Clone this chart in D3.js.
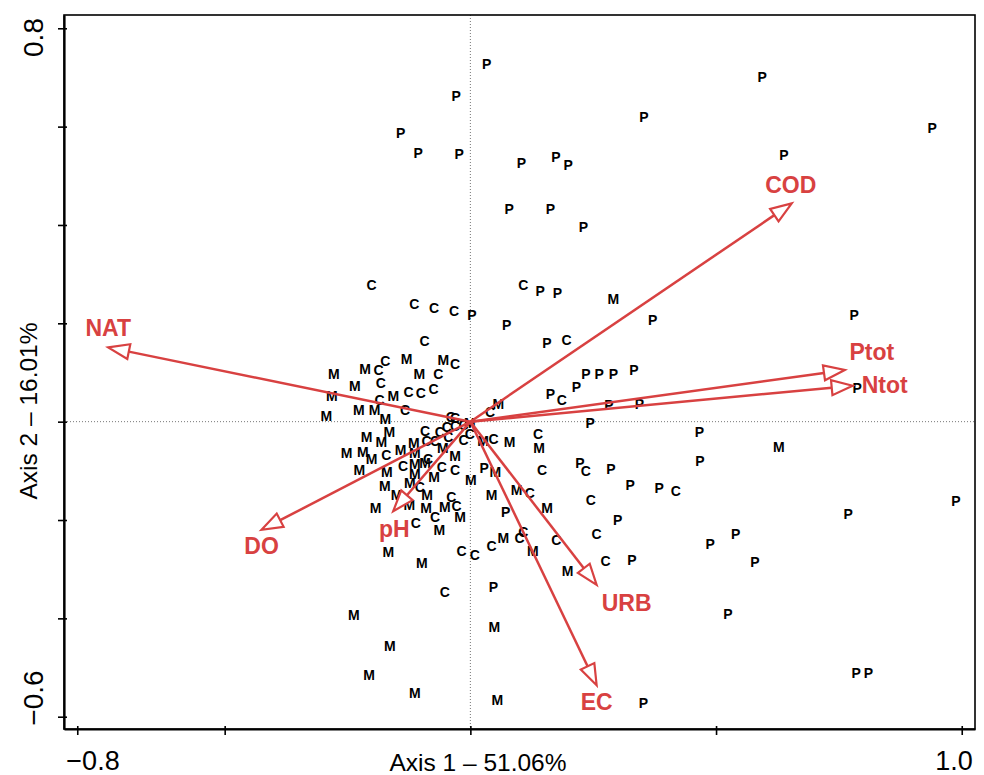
<!DOCTYPE html>
<html>
<head>
<meta charset="utf-8">
<script src="https://cdn.jsdelivr.net/npm/d3@7"></script>
<style>
  body { margin: 0; background: #fff; }
  svg { display: block; }
</style>
</head>
<body>
<div id="chart"></div>
<script>
// site scores (axis 1, axis 2), grouped by site class
const sitesP = [
  [0.033, 0.728], [-0.029, 0.662], [-0.142, 0.588], [-0.106, 0.547], [-0.023, 0.545],
  [0.104, 0.527], [0.174, 0.538], [0.199, 0.522], [0.079, 0.432], [0.163, 0.432],
  [0.230, 0.395], [0.353, 0.619], [0.594, 0.700], [0.638, 0.542], [0.940, 0.597],
  [0.003, 0.217], [0.074, 0.197], [0.142, 0.266], [0.177, 0.261], [0.371, 0.207],
  [0.156, 0.161], [0.781, 0.218], [0.787, 0.069], [0.163, 0.056], [0.216, 0.070],
  [0.235, 0.096], [0.262, 0.096], [0.291, 0.096], [0.333, 0.105], [0.282, 0.033],
  [0.344, 0.035], [0.244, -0.002], [0.466, -0.020], [0.467, -0.079], [0.223, -0.083],
  [0.286, -0.097], [0.325, -0.128], [0.384, -0.135], [0.300, -0.200], [0.329, -0.282],
  [0.488, -0.249], [0.540, -0.228], [0.579, -0.286], [0.524, -0.391], [0.785, -0.511],
  [0.810, -0.511], [0.988, -0.162], [0.769, -0.188], [0.352, -0.573], [0.047, -0.336],
  [0.028, -0.094], [0.072, -0.184]
];
const sitesC = [
  [-0.201, 0.278], [-0.114, 0.240], [-0.074, 0.231], [-0.033, 0.226], [0.108, 0.279],
  [-0.093, 0.164], [0.196, 0.166], [0.186, 0.044], [-0.173, 0.123], [-0.031, 0.117],
  [-0.187, 0.106], [-0.065, 0.096], [-0.182, 0.079], [-0.126, 0.061], [-0.101, 0.059],
  [-0.075, 0.066], [-0.185, 0.044], [-0.133, 0.024], [-0.040, 0.010], [-0.031, 0.008],
  [-0.048, -0.010], [-0.031, -0.009], [-0.014, -0.006], [-0.001, -0.024], [0.040, 0.019],
  [-0.092, -0.019], [-0.062, -0.021], [-0.089, -0.039], [-0.072, -0.039], [-0.045, -0.031],
  [-0.014, -0.037], [0.047, -0.035], [0.138, -0.026], [-0.171, -0.068], [-0.086, -0.076],
  [-0.137, -0.091], [-0.058, -0.092], [-0.031, -0.099], [0.146, -0.099], [0.235, -0.101],
  [-0.103, -0.133], [-0.039, -0.153], [0.121, -0.145], [0.418, -0.141], [0.245, -0.159],
  [-0.028, -0.171], [-0.072, -0.193], [-0.111, -0.207], [-0.018, -0.262], [0.009, -0.271],
  [0.043, -0.252], [0.100, -0.237], [0.108, -0.224], [0.175, -0.241], [0.257, -0.228],
  [0.275, -0.284], [-0.052, -0.346]
];
const sitesM = [
  [0.291, 0.249], [-0.130, 0.127], [-0.055, 0.125], [-0.278, 0.098], [-0.214, 0.107],
  [-0.104, 0.098], [-0.235, 0.073], [-0.282, 0.053], [-0.157, 0.053], [-0.293, 0.012],
  [-0.227, 0.024], [-0.195, 0.023], [-0.173, 0.005], [-0.001, -0.003], [0.057, 0.037],
  [-0.165, -0.020], [-0.211, -0.031], [-0.181, -0.041], [-0.115, -0.044], [0.026, -0.040],
  [0.080, -0.042], [0.140, -0.053], [0.628, -0.052], [-0.252, -0.063], [-0.219, -0.062],
  [-0.201, -0.075], [-0.142, -0.058], [-0.113, -0.064], [-0.056, -0.054], [-0.031, -0.069],
  [-0.113, -0.087], [-0.092, -0.083], [-0.226, -0.099], [-0.170, -0.102], [-0.113, -0.107],
  [-0.074, -0.113], [0.001, -0.119], [0.051, -0.102], [-0.174, -0.131], [-0.123, -0.125],
  [-0.150, -0.149], [-0.088, -0.149], [0.043, -0.150], [0.094, -0.139], [-0.193, -0.176],
  [-0.124, -0.169], [-0.090, -0.176], [-0.052, -0.174], [-0.021, -0.193], [0.156, -0.176],
  [-0.063, -0.220], [-0.167, -0.265], [-0.099, -0.288], [0.067, -0.236], [0.127, -0.262],
  [0.198, -0.303], [-0.237, -0.393], [0.049, -0.417], [-0.164, -0.456], [-0.206, -0.515],
  [-0.113, -0.552], [0.055, -0.566]
];

// environmental vectors
const varNames = ['NAT', 'COD', 'Ptot', 'Ntot', 'DO', 'pH', 'URB', 'EC'];
const varX = [-0.737, 0.654, 0.762, 0.778, -0.425, -0.157, 0.257, 0.257];
const varY = [0.151, 0.444, 0.105, 0.073, -0.220, -0.182, -0.332, -0.536];

const xTicks = [-0.8, -0.5, 0, 0.5, 1.0];
const yTicks = [-0.6, -0.4, -0.2, 0, 0.2, 0.4, 0.6, 0.8];
const xTitle = 'Axis 1 \u2013 51.06%';
const yTitle = 'Axis 2 \u2013 16.01%';

const width = 984, height = 775;
const box = { left: 64, right: 975, top: 15, bottom: 729 };
const red = '#d84141';
const font = '"Liberation Sans", Arial, Helvetica, sans-serif';

// label placement (px, relative to the arrow tip; baseline, centred)
const labelNudge = {
  NAT: [0, -11], COD: [-1, -10], Ptot: [27, -10], Ntot: [32, 7],
  DO: [0, 24], pH: [1, 26], URB: [30, 26], EC: [0, 25]
};

const svg = d3.select('#chart').append('svg')
  .attr('width', width).attr('height', height)
  .style('font-family', font);

const x = d3.scaleLinear().domain([-0.827, 1.027]).range([box.left, box.right]);
const y = d3.scaleLinear().domain([-0.625, 0.827]).range([box.bottom, box.top]);

// zero reference lines
svg.append('line')
  .attr('x1', x(0)).attr('x2', x(0)).attr('y1', box.top).attr('y2', box.bottom)
  .attr('stroke', '#777').attr('stroke-width', 1).attr('stroke-dasharray', '1,2');
svg.append('line')
  .attr('x1', box.left).attr('x2', box.right).attr('y1', y(0)).attr('y2', y(0))
  .attr('stroke', '#777').attr('stroke-width', 1).attr('stroke-dasharray', '1,2');

// site letters
const groups = [['P', sitesP], ['C', sitesC], ['M', sitesM]];
groups.forEach(([lab, pts]) => {
  svg.append('g').selectAll('text').data(pts).enter().append('text')
    .attr('x', d => x(d[0])).attr('y', d => y(d[1]))
    .attr('dy', '0.36em')
    .attr('text-anchor', 'middle')
    .attr('font-weight', 'bold')
    .attr('font-size', 14)
    .attr('fill', '#000')
    .text(lab);
});

// arrows
const headLen = 21, headHalf = 7.5;
const vars = varNames.map((n, i) => ({ name: n, vx: varX[i], vy: varY[i] }));
const ag = svg.append('g');
vars.forEach(v => {
  const x0 = x(0), y0 = y(0), x1 = x(v.vx), y1 = y(v.vy);
  const len = Math.hypot(x1 - x0, y1 - y0);
  const ux = (x1 - x0) / len, uy = (y1 - y0) / len;
  const bx = x1 - ux * headLen, by = y1 - uy * headLen;
  ag.append('line')
    .attr('x1', x0).attr('y1', y0).attr('x2', bx).attr('y2', by)
    .attr('stroke', red).attr('stroke-width', 2.5);
  const pts = [[x1, y1], [bx - uy * headHalf, by + ux * headHalf], [bx + uy * headHalf, by - ux * headHalf]];
  ag.append('polygon')
    .attr('points', pts.map(p => p.join(',')).join(' '))
    .attr('fill', '#fff').attr('stroke', red).attr('stroke-width', 2.2)
    .attr('stroke-linejoin', 'miter');
  const nd = labelNudge[v.name] || [0, 0];
  ag.append('text')
    .attr('x', x1 + nd[0]).attr('y', y1 + nd[1])
    .attr('text-anchor', 'middle')
    .attr('font-weight', 'bold').attr('font-size', 23)
    .attr('fill', red)
    .text(v.name);
});

// frame
svg.append('rect')
  .attr('x', box.left).attr('y', box.top)
  .attr('width', box.right - box.left).attr('height', box.bottom - box.top)
  .attr('fill', 'none').attr('stroke', '#000').attr('stroke-width', 1.6);

// axes: ticks only, end labels drawn by hand-tuned placement
const xAxis = d3.axisBottom(x).tickValues(xTicks).tickSizeInner(6).tickSizeOuter(0).tickFormat('');
const yAxis = d3.axisLeft(y).tickValues(yTicks).tickSizeInner(6).tickSizeOuter(0).tickFormat('');
const xg = svg.append('g').attr('transform', `translate(0,${box.bottom})`).call(xAxis);
const yg = svg.append('g').attr('transform', `translate(${box.left},0)`).call(yAxis);
[xg, yg].forEach(g => {
  g.select('.domain').attr('stroke', '#000').attr('stroke-width', 2.2);
  g.selectAll('.tick line').attr('stroke', '#000').attr('stroke-width', 1.6);
});
xg.selectAll('.tick line').attr('y1', -3);
yg.selectAll('.tick line').attr('x1', 3);

const fmt = v => (v < 0 ? '\u2212' : '') + Math.abs(v).toFixed(1);
svg.append('text').attr('x', 93).attr('y', 770).attr('text-anchor', 'middle')
  .attr('font-size', 27).text(fmt(xTicks[0]));
svg.append('text').attr('x', 954).attr('y', 770).attr('text-anchor', 'middle')
  .attr('font-size', 27).text(fmt(xTicks[xTicks.length - 1]));
svg.append('text').attr('transform', 'translate(43,37.5) rotate(-90)').attr('text-anchor', 'middle')
  .attr('font-size', 28).text(fmt(yTicks[yTicks.length - 1]));
svg.append('text').attr('transform', 'translate(43,698) rotate(-90)').attr('text-anchor', 'middle')
  .attr('font-size', 28).text(fmt(yTicks[0]));

// axis titles
svg.append('text').attr('x', 478).attr('y', 771).attr('text-anchor', 'middle')
  .attr('font-size', 24.5).text(xTitle);
svg.append('text').attr('transform', 'translate(37,411) rotate(-90)').attr('text-anchor', 'middle')
  .attr('font-size', 24.5).text(yTitle);
</script>
</body>
</html>
